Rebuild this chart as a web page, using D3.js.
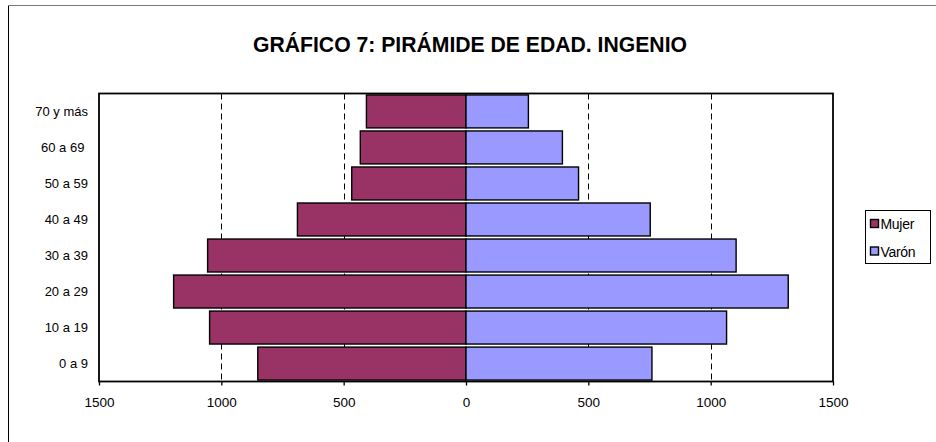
<!DOCTYPE html>
<html><head><meta charset="utf-8">
<script src="https://cdn.jsdelivr.net/npm/d3@7"></script>
<style>body{margin:0;background:#fff}svg{display:block}text{font-family:Arial,"Liberation Sans",sans-serif}</style>
</head><body>
<svg id="c" width="936" height="442"></svg>
<script>
const categories = ["0 a 9","10 a 19","20 a 29","30 a 39","40 a 49","50 a 59","60 a 69 ","70 y más"];
const mujer = [851,1048,1195,1056,689,467,432,407];
const varon = [760,1065,1317,1104,753,460,394,255];
const tickValues = [-1500,-1000,-500,0,500,1000,1500];
const seriesNames = ["Mujer","Varón"];
const colors = ["#993366","#9999FF"];

const svg = d3.select("#c");
const L=99, R=833, T=93.5, B=381.5;
// outer chart border (only top/left visible)
svg.append("rect").attr("x",8.5).attr("y",5.5).attr("width",1000).attr("height",1000)
  .attr("fill","none").attr("stroke","#000").attr("stroke-width",1);
svg.append("line").attr("x1",8).attr("x2",936).attr("y1",5.5).attr("y2",5.5).attr("stroke","#777").attr("stroke-width",1.2);

svg.append("text").attr("x",470).attr("y",52).attr("text-anchor","middle")
  .attr("font-size",22).attr("font-weight","bold").attr("textLength",434).attr("lengthAdjust","spacingAndGlyphs")
  .text("GRÁFICO 7: PIRÁMIDE DE EDAD. INGENIO");

const x = d3.scaleLinear().domain([-1500,1500]).range([L,R]);
const y = d3.scaleBand().domain(categories.slice().reverse()).range([T,B]).paddingInner(0.085).paddingOuter(0.04);

// gridlines
svg.append("g").selectAll("line").data(tickValues.filter(v=>v!==0&&Math.abs(v)!==1500)).join("line")
  .attr("x1",d=>Math.round(x(d))+0.5).attr("x2",d=>Math.round(x(d))+0.5).attr("y1",T).attr("y2",B)
  .attr("stroke","#000").attr("stroke-width",1).attr("stroke-dasharray","6,4");

// bars
const rows = categories.map((c,i)=>({c,m:mujer[i],v:varon[i]}));
svg.append("g").selectAll("rect").data(rows).join("rect")
  .attr("x",d=>x(-d.m)).attr("width",d=>x(0)-x(-d.m)).attr("y",d=>y(d.c)).attr("height",y.bandwidth())
  .attr("fill",colors[0]).attr("stroke","#000").attr("stroke-width",1.4);
svg.append("g").selectAll("rect").data(rows).join("rect")
  .attr("x",x(0)).attr("width",d=>x(d.v)-x(0)).attr("y",d=>y(d.c)).attr("height",y.bandwidth())
  .attr("fill",colors[1]).attr("stroke","#000").attr("stroke-width",1.4);

// plot border
svg.append("rect").attr("x",L).attr("y",T).attr("width",R-L).attr("height",B-T)
  .attr("fill","none").attr("stroke","#000").attr("stroke-width",1.8);

// x axis
const xa = svg.append("g").attr("transform",`translate(0,${B})`)
  .call(d3.axisBottom(x).tickValues(tickValues).tickFormat(d=>Math.abs(d)).tickSize(4).tickPadding(12));
xa.select(".domain").remove();
xa.selectAll("line").attr("stroke","#000").attr("stroke-width",1.3);
xa.selectAll("text").attr("font-size",13.5).attr("font-family","Arial, 'Liberation Sans', sans-serif").attr("fill","#000");

// y axis
const ya = svg.append("g").attr("transform",`translate(${L},0)`)
  .call(d3.axisLeft(y).tickSize(0).tickPadding(11));
ya.select(".domain").remove();
ya.selectAll("text").attr("font-size",13).attr("font-family","Arial, 'Liberation Sans', sans-serif").attr("fill","#000").style("white-space","pre");

// legend
const lg = svg.append("g");
lg.append("rect").attr("x",865.5).attr("y",210.5).attr("width",65).attr("height",53).attr("fill","#fff").attr("stroke","#000").attr("stroke-width",1);
seriesNames.forEach((n,i)=>{
  const yy = 219.5 + i*27.5;
  lg.append("rect").attr("x",870.5).attr("y",yy).attr("width",8).attr("height",8).attr("fill",colors[i]).attr("stroke","#000").attr("stroke-width",1.4);
  lg.append("text").attr("x",880.5).attr("y",yy+9.5).attr("font-size",14).attr("letter-spacing",-0.3).attr("fill","#000").text(n);
});
</script>
</body></html>
